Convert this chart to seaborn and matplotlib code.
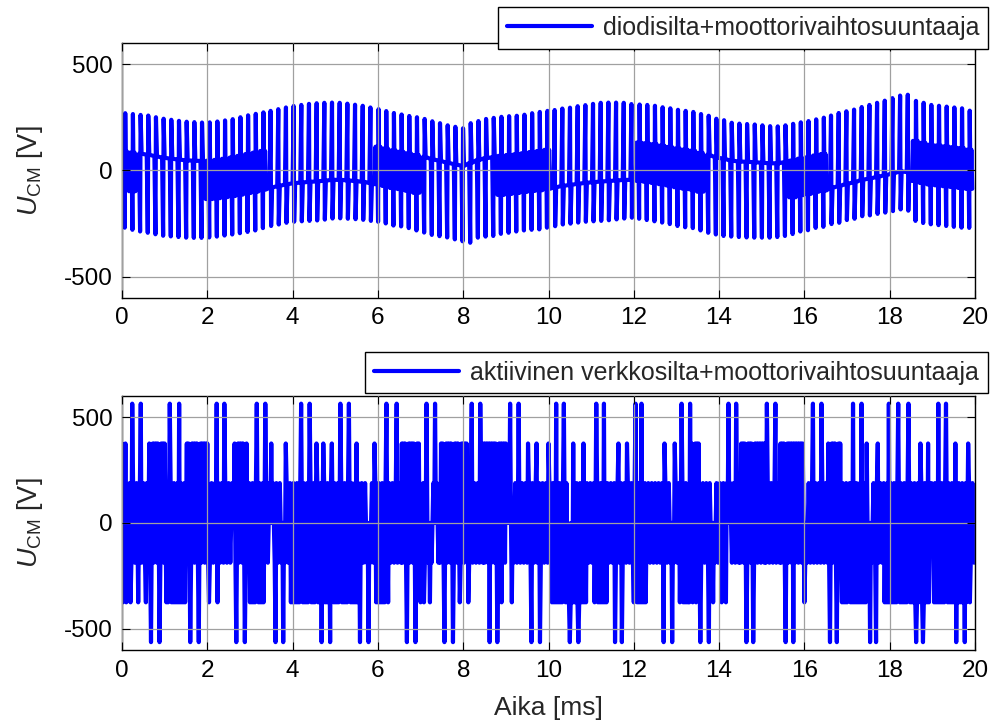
import numpy as np
import pandas as pd
import matplotlib
matplotlib.use("Agg")
import matplotlib.pyplot as plt
import seaborn as sns

# ---------------------------------------------------------------
# Upper trace: diode bridge + motor inverter, one column per
# switching period (peak voltages in V)
# ---------------------------------------------------------------
col_first_ms = 0.07
col_period_ms = 0.18

col_hi = [269, 265, 261, 258, 250, 243, 238, 233, 229, 227,
          225, 226, 230, 235, 241, 250, 259, 266, 273, 280,
          288, 296, 303, 308, 313, 316, 318, 319, 318, 314,
          309, 304, 296, 288, 279, 270, 263, 256, 250, 242,
          231, 222, 212, 205, 198, 222, 232, 242, 247, 252,
          255, 257, 262, 269, 275, 280, 284, 291, 295, 302,
          307, 313, 318, 319, 319, 318, 312, 310, 308, 304,
          297, 292, 285, 280, 275, 265, 257, 243, 236, 224,
          220, 218, 216, 212, 208, 207, 212, 219, 226, 232,
          240, 248, 258, 270, 278, 286, 298, 308, 318, 328,
          340, 352, 356, 327, 318, 308, 304, 300, 296, 292,
          281]

col_lo = [-270, -280, -288, -294, -301, -308, -311, -314, -317, -318,
          -318, -316, -312, -307, -302, -296, -290, -283, -272, -262,
          -255, -247, -242, -240, -238, -236, -232, -227, -226, -228,
          -230, -233, -238, -242, -250, -260, -264, -272, -283, -293,
          -304, -310, -316, -325, -334, -341, -317, -312, -309, -299,
          -294, -288, -283, -280, -278, -270, -263, -255, -251, -246,
          -242, -240, -238, -235, -231, -227, -223, -228, -234, -240,
          -246, -253, -262, -268, -272, -283, -294, -302, -309, -312,
          -314, -316, -317, -317, -317, -314, -309, -300, -288, -282,
          -271, -266, -253, -247, -234, -228, -216, -212, -205, -199,
          -192, -184, -190, -238, -248, -254, -258, -262, -266, -270,
          -271]

# which intermediate level the trace rests on between pulses:
# u = upper, d = lower, b = toggling between both
mid_runs = [("b", 2), ("u", 9), ("b", 8), ("d", 14), ("b", 6), ("u", 10),
            ("b", 7), ("d", 11), ("b", 9), ("u", 11), ("b", 5), ("d", 11),
            ("b", 8)]

# ---------------------------------------------------------------
# Lower trace: active front end + motor inverter
# ---------------------------------------------------------------
cm_levels = [-563, -375, -188, 0, 188, 375, 563]   # V, index 0..6
sample_ms = 0.02

pos_peak_ms = [0.23, 0.45, 1.13, 1.34, 2.22, 2.41, 3.16, 3.35, 4.21, 4.41,
               5.11, 5.31, 6.20, 6.44, 7.14, 7.34, 8.20, 8.40, 9.10, 9.30,
               10.19, 10.35, 11.13, 11.30, 12.03, 12.18, 13.12, 13.32,
               14.22, 14.41, 15.11, 15.31, 16.20, 16.40, 17.14, 17.34,
               17.98, 18.20, 18.43, 19.14, 19.33]
neg_peak_ms = [0.67, 0.89, 1.59, 1.79, 2.69, 2.88, 3.59, 3.78, 4.68, 4.88,
               5.58, 5.78, 6.68, 6.87, 7.57, 7.77, 8.62, 8.80, 9.60, 9.80,
               10.50, 10.70, 11.56, 11.72, 12.70, 12.90, 13.55, 13.75,
               14.64, 14.80, 15.55, 15.74, 16.60, 16.76, 17.54, 17.69,
               18.62, 18.78, 19.57, 19.77]
pos_blocks_ms = [(0.00, 0.10), (0.62, 1.00), (1.52, 2.05), (2.62, 2.92),
                 (6.56, 6.99), (7.46, 8.08), (8.47, 9.02), (13.30, 13.55),
                 (14.49, 15.08), (15.43, 16.02), (16.56, 16.84)]
pos_single_ms = [3.50, 3.83, 4.55, 4.72, 4.92, 5.50, 5.93, 9.53, 9.72,
                 10.00, 10.58, 10.82, 11.64, 11.83, 12.73, 12.97, 17.46,
                 17.73, 18.71, 18.90, 19.54, 19.85]
neg_blocks_ms = [(0.00, 0.10), (1.02, 1.52), (3.00, 3.39), (3.94, 5.54),
                 (5.93, 6.24), (10.08, 10.90), (11.05, 11.36), (11.99, 12.30),
                 (13.08, 13.47), (16.88, 17.03), (17.07, 17.46),
                 (17.85, 18.94), (19.02, 19.88)]
neg_single_ms = [0.20, 0.38, 0.55, 2.05, 2.25, 6.99, 7.07, 7.22, 7.93, 8.12,
                 8.40, 8.90, 9.14, 13.86, 14.06, 14.17, 16.00]

x_ticks = [0, 2, 4, 6, 8, 10, 12, 14, 16, 18, 20]
y_ticks = [-500, 0, 500]
label_top = "diodisilta+moottorivaihtosuuntaaja"
label_bot = "aktiivinen verkkosilta+moottorivaihtosuuntaaja"

# ---------------------------------------------------------------
# build the sample sequences
# ---------------------------------------------------------------
codes = "".join(c * n for c, n in mid_runs)
t_top, u_top = [], []
for k, (hi, lo, code) in enumerate(zip(col_hi, col_lo, codes)):
    tc = col_first_ms + k * col_period_ms
    m_hi = lo + 2 * (hi - lo) / 3
    m_lo = lo + (hi - lo) / 3
    if code == "u":
        seq = [(-0.03, m_hi), (-0.006, lo), (0.006, hi), (0.03, m_hi)]
    elif code == "d":
        seq = [(-0.03, m_lo), (-0.006, hi), (0.006, lo), (0.03, m_lo)]
    else:
        seq = [(-0.085, m_lo), (-0.065, m_hi), (-0.045, m_lo), (-0.025, m_hi),
               (-0.006, lo), (0.006, hi), (0.025, m_lo), (0.045, m_hi),
               (0.065, m_lo)]
    for dt, v in seq:
        t_top.append(tc + dt)
        u_top.append(v)
df_top = pd.DataFrame({"t": t_top, "u": u_top})


def in_spans(t, spans):
    return any(a <= t <= b for a, b in spans)


n_samples = int(round(20 / sample_ms)) + 1
t_bot = np.arange(n_samples) * sample_ms
idx = np.zeros(n_samples, dtype=int)
for i, t in enumerate(t_bot):
    p = in_spans(t, pos_blocks_ms)
    n = in_spans(t, neg_blocks_ms)
    if p and n:
        cyc = (2, -2, 1, -1)
    elif p:
        cyc = (2, -1, 2, 0)
    elif n:
        cyc = (-2, 1, -2, 0)
    else:
        cyc = (0, 1, 0, -1)
    idx[i] = cyc[i % 4]
for t in pos_single_ms:
    idx[int(round(t / sample_ms))] = 2
for t in neg_single_ms:
    idx[int(round(t / sample_ms))] = -2
for t in pos_peak_ms:
    idx[int(round(t / sample_ms))] = 3
for t in neg_peak_ms:
    idx[int(round(t / sample_ms))] = -3
u_bot = np.array(cm_levels)[idx + 3]
df_bot = pd.DataFrame({"t": t_bot, "u": u_bot})

# ---------------------------------------------------------------
# figure
# ---------------------------------------------------------------
sns.set_theme(style="ticks")
plt.rcParams.update({
    "font.family": ["Liberation Sans", "DejaVu Sans"],
    "mathtext.fontset": "custom",
    "mathtext.rm": "Liberation Sans",
    "mathtext.it": "Liberation Sans:italic",
    "axes.unicode_minus": False,
    "path.simplify": False,
})

fig = plt.figure(figsize=(10, 7.21), dpi=100)
ax1 = fig.add_axes([0.122, 0.587, 0.853, 0.3535])
ax2 = fig.add_axes([0.122, 0.0985, 0.853, 0.3525])

blue = "#0000ff"
for ax, df, lab, leg_top in ((ax1, df_top, label_top, 0.990),
                             (ax2, df_bot, label_bot, 0.5118)):
    sns.lineplot(data=df, x="t", y="u", ax=ax, color=blue, linewidth=3.0,
                 sort=False, estimator=None, label=lab)
    ax.set_xlim(0, 20)
    ax.set_ylim(-600, 600)
    ax.set_xticks(x_ticks)
    ax.set_yticks(y_ticks)
    ax.set_xticklabels([str(v) for v in x_ticks])
    ax.set_yticklabels([str(v) for v in y_ticks])
    ax.grid(True, color="#a0a0a0", linewidth=0.9)
    ax.set_axisbelow(False)
    ax.tick_params(direction="in", top=True, right=True, length=6, width=0.8,
                   labelsize=17.5, pad=7, colors="black")
    for s in ax.spines.values():
        s.set_color("black")
        s.set_linewidth(1.0)
    ax.set_xlabel("")
    ax.set_ylabel(r"$U_{\mathrm{CM}}$ [V]", fontsize=19.5)
    ax.yaxis.set_label_coords(-0.09, 0.5)
    leg = ax.legend(loc="upper right", bbox_to_anchor=(0.988, leg_top),
                    bbox_transform=fig.transFigure, frameon=True,
                    fancybox=False, edgecolor="black", framealpha=1,
                    borderpad=0.35, handlelength=3.4, handletextpad=0.45,
                    fontsize=18, borderaxespad=0)
    leg.get_frame().set_linewidth(1.0)
    for line in leg.get_lines():
        line.set_linewidth(3.0)

ax2.set_xlabel("Aika [ms]", fontsize=19)
ax2.xaxis.set_label_coords(0.5, -0.183)

fig.savefig("out.png", dpi=100)
